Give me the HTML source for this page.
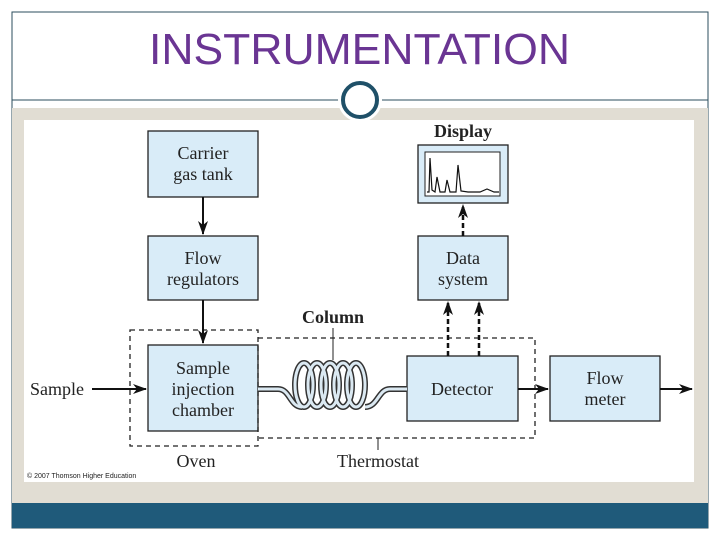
<!DOCTYPE html>
<html><head><style>
body{margin:0;width:720px;height:540px;background:#fff;position:relative;overflow:hidden;font-family:"Liberation Serif",serif}
</style></head><body>
<svg width="720" height="540" style="position:absolute;left:0;top:0">
<defs>
<marker id="a" markerWidth="14" markerHeight="10" refX="13" refY="5" orient="auto" markerUnits="userSpaceOnUse"><path d="M0,0L14,5L0,10L4,5z" fill="#111"/></marker>
</defs>
<rect x="12" y="12" width="696" height="516" fill="#fff" stroke="#2b4d5c" stroke-width="1"/>
<rect x="12" y="108" width="696" height="395" fill="#e1ddd3"/>
<rect x="12" y="503" width="696" height="25" fill="#1f5a7a"/>
<line x1="12" y1="100" x2="708" y2="100" stroke="#2b4d5c" stroke-width="1"/>
<rect x="24" y="120" width="670" height="362" fill="#fff"/>
<circle cx="360" cy="100" r="22" fill="#fff"/>
<circle cx="360" cy="100" r="17" fill="#fff" stroke="#1f5068" stroke-width="4"/>
<text x="149" y="64" font-family="Liberation Sans,sans-serif" font-size="44" fill="#6a3593" textLength="421" lengthAdjust="spacingAndGlyphs">INSTRUMENTATION</text>
<g stroke="#222" stroke-width="1.3" fill="#d9ecf8">
<rect x="148" y="131" width="110" height="66"/>
<rect x="148" y="236" width="110" height="64"/>
<rect x="148" y="345" width="110" height="86"/>
<rect x="418" y="145" width="90" height="58"/>
<rect x="418" y="236" width="90" height="64"/>
<rect x="407" y="356" width="111" height="65"/>
<rect x="550" y="356" width="110" height="65"/>
</g>
<rect x="425" y="152" width="75" height="44" fill="#fff" stroke="#222" stroke-width="1"/>
<path d="M427,192 L429,192 L430,158 L432,190 L435,192 L437,177 L440,192 L445,192 L447,180 L450,192 L456,192 L458,165 L461,191 L468,192 L480,192 L487,189 L494,192 L499,192" fill="none" stroke="#111" stroke-width="1.2"/>
<g stroke="#222" stroke-width="1.3" fill="none" stroke-dasharray="5,4">
<rect x="130" y="330" width="128" height="116"/>
<path d="M258,338 H535 V438 H258"/>
</g>
<g stroke="#111" stroke-width="2" fill="none">
<line x1="203" y1="197" x2="203" y2="234" marker-end="url(#a)"/>
<line x1="203" y1="300" x2="203" y2="343" marker-end="url(#a)"/>
<line x1="92" y1="389" x2="146" y2="389" marker-end="url(#a)"/>
<line x1="518" y1="389" x2="548" y2="389" marker-end="url(#a)"/>
<line x1="660" y1="389" x2="692" y2="389" marker-end="url(#a)"/>
<line x1="463" y1="236" x2="463" y2="205" marker-end="url(#a)" stroke-dasharray="5,3" stroke-width="2.5"/>
<line x1="448" y1="356" x2="448" y2="302" marker-end="url(#a)" stroke-dasharray="5,3" stroke-width="2.5"/>
<line x1="479" y1="356" x2="479" y2="302" marker-end="url(#a)" stroke-dasharray="5,3" stroke-width="2.5"/>
</g>
<g fill="none" stroke="#333" stroke-width="6">
<path d="M258,389 H278 C290,389 290,407 302,407 M365,407 C378,407 378,389 390,389 H407"/>
<ellipse cx="304" cy="385" rx="9" ry="22"/><ellipse cx="317" cy="385" rx="9" ry="22"/><ellipse cx="330" cy="385" rx="9" ry="22"/><ellipse cx="343" cy="385" rx="9" ry="22"/><ellipse cx="356" cy="385" rx="9" ry="22"/>
</g>
<g fill="none" stroke="#dbe9f2" stroke-width="3">
<path d="M258,389 H278 C290,389 290,407 302,407 M365,407 C378,407 378,389 390,389 H407"/>
<ellipse cx="304" cy="385" rx="9" ry="22"/><ellipse cx="317" cy="385" rx="9" ry="22"/><ellipse cx="330" cy="385" rx="9" ry="22"/><ellipse cx="343" cy="385" rx="9" ry="22"/><ellipse cx="356" cy="385" rx="9" ry="22"/>
</g>
<g stroke="#222" stroke-width="1"><line x1="333" y1="328" x2="333" y2="360"/><line x1="378" y1="438" x2="378" y2="450"/></g>
<g font-size="18" fill="#222" text-anchor="middle">
<text x="203" y="159">Carrier</text><text x="203" y="180">gas tank</text>
<text x="203" y="264">Flow</text><text x="203" y="285">regulators</text>
<text x="203" y="374">Sample</text><text x="203" y="395">injection</text><text x="203" y="416">chamber</text>
<text x="463" y="264">Data</text><text x="463" y="285">system</text>
<text x="462" y="395">Detector</text>
<text x="605" y="384">Flow</text><text x="605" y="405">meter</text>
<text x="57" y="395">Sample</text>
<text x="196" y="467">Oven</text>
<text x="378" y="467">Thermostat</text>
<text x="333" y="323" font-weight="bold">Column</text>
<text x="463" y="137" font-weight="bold">Display</text>
</g>
<text x="27" y="478" font-family="Liberation Sans,sans-serif" font-size="7" fill="#222">© 2007 Thomson Higher Education</text>
</svg>
</body></html>
